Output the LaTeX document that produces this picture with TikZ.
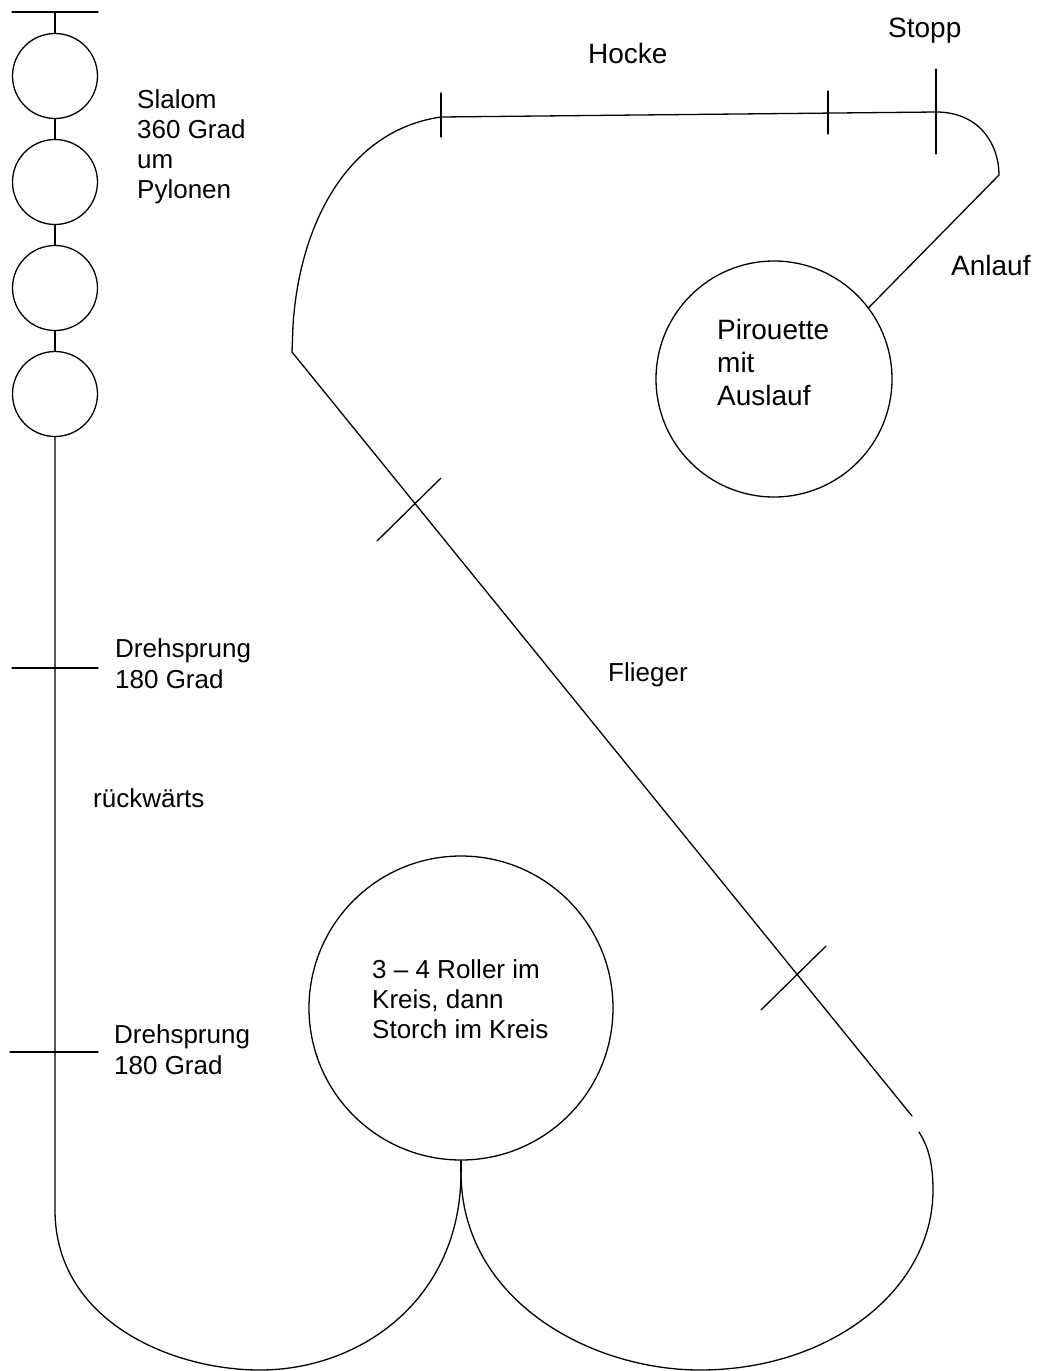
\documentclass[tikz,border=0pt]{standalone}
\usepackage{fontspec}
\setmainfont{Liberation Sans}
\begin{document}
\begin{tikzpicture}[x=1pt,y=-1pt,
  track/.style={line width=1.3pt, line cap=round, line join=round},
  pylon/.style={circle, draw, line width=1.3pt, minimum size=85pt, inner sep=0pt},
  bigcircle/.style={circle, draw, line width=1.3pt, inner sep=0pt},
  lbl/.style={align=left, inner sep=0pt, anchor=north west, font=\fontsize{26}{30}\selectfont},
  lblbig/.style={align=left, inner sep=0pt, anchor=north west, font=\fontsize{28}{33}\selectfont}]
\useasboundingbox (0,0) rectangle (1038,1371);

% --- left slalom column ---
\coordinate (t0) at (55,12);
\coordinate (t0l) at (12,12);
\coordinate (t0r) at (98,12);
\node[pylon] (c1) at (55,76) {};
\node[pylon] (c2) at (55,182) {};
\node[pylon] (c3) at (55,288) {};
\node[pylon] (c4) at (55,394) {};
\draw[track] (t0l) -- (t0r);
\draw[track] (t0) -- (c1.north);
\draw[track] (c1.south) -- (c2.north);
\draw[track] (c2.south) -- (c3.north);
\draw[track] (c3.south) -- (c4.north);

% ticks on the left line
\coordinate (d1l) at (12,668);
\coordinate (d1r) at (98,668);
\coordinate (d2l) at (10,1052);
\coordinate (d2r) at (98,1052);
\draw[track] (d1l) -- (d1r);
\draw[track] (d2l) -- (d2r);

% --- bottom circle and lobes ---
\node[bigcircle, minimum size=304pt] (rk) at (461,1008) {};
\coordinate (cusp) at (461,1172);
\coordinate (lstart) at (55,1210);
\coordinate (rend) at (919,1132);
\draw[track] (c4.south) -- (lstart)
  .. controls (55,1320) and (170,1370) .. (260,1370)
  .. controls (360,1370) and (461,1300) .. (cusp);
\draw[track] (rk.south) -- (cusp);
\draw[track] (cusp)
  .. controls (461,1300) and (590,1370) .. (700,1370)
  .. controls (830,1370) and (933,1290) .. (933,1190)
  .. controls (933,1160) and (927,1145) .. (rend);

% --- diagonal (Flieger) ---
\coordinate (kink) at (292,352);
\coordinate (dend) at (912,1116);
\draw[track] (kink) -- (dend);
\coordinate (f1a) at (377,541);
\coordinate (f1b) at (441,478);
\coordinate (f2a) at (761,1010);
\coordinate (f2b) at (826,946);
\draw[track] (f1a) -- (f1b);
\draw[track] (f2a) -- (f2b);

% --- top part ---
\coordinate (hstart) at (441,117);
\coordinate (stopp) at (936,112);
\coordinate (rarc) at (999,175);
\draw[track] (kink) -- (293,325)
  .. controls (300,220) and (350,130) .. (hstart)
  -- (stopp)
  .. controls (980,112) and (999,145) .. (rarc);
\coordinate (k1a) at (441,93);
\coordinate (k1b) at (441,137);
\coordinate (k2a) at (828,91);
\coordinate (k2b) at (828,134);
\coordinate (k3a) at (936,69);
\coordinate (k3b) at (936,154);
\draw[track] (k1a) -- (k1b);
\draw[track] (k2a) -- (k2b);
\draw[track] (k3a) -- (k3b);

% Pirouette circle and Anlauf
\node[bigcircle, minimum size=236pt] (pir) at (774,379) {};
\draw[track] (rarc) -- (pir.37);

% --- labels ---
\node[lbl] (tslalom) at (137,89) {Slalom\\360 Grad\\um\\Pylonen};
\node[lbl, font=\fontsize{26}{31.5}\selectfont] (tdreh1) at (115,638) {Drehsprung\\180 Grad};
\node[lbl] (trueck) at (93,788) {rückwärts};
\node[lbl, font=\fontsize{26}{31}\selectfont] (tdreh2) at (114,1024) {Drehsprung\\180 Grad};
\node[lblbig] (thocke) at (588,43) {Hocke};
\node[lblbig] (tstopp) at (888,18) {Stopp};
\node[lblbig] (tanlauf) at (951,255) {Anlauf};
\node[lblbig] (tpir) at (717,319) {Pirouette\\mit\\Auslauf};
\node[lbl] (tflieger) at (608,662) {Flieger};
\node[lbl] (troller) at (372,959) {3 – 4 Roller im\\Kreis, dann\\Storch im Kreis};
\end{tikzpicture}
\end{document}
